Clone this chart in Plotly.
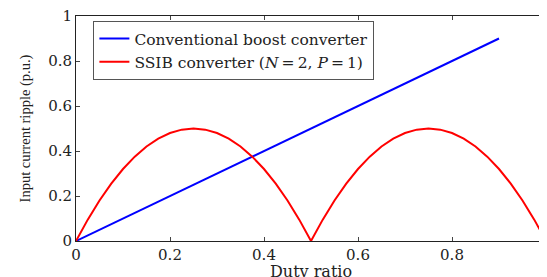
import plotly.graph_objects as go

duty_blue = [0.0, 0.9]
ripple_blue = [0.0, 0.9]

duty_red = [0.0, 0.025, 0.05, 0.075, 0.1, 0.125, 0.15, 0.175, 0.2, 0.225, 0.25,
            0.275, 0.3, 0.325, 0.35, 0.375, 0.4, 0.425, 0.45, 0.475, 0.5,
            0.525, 0.55, 0.575, 0.6, 0.625, 0.65, 0.675, 0.7, 0.725, 0.75,
            0.775, 0.8, 0.825, 0.85, 0.875, 0.9, 0.925, 0.95, 0.975, 1.0]
ripple_red = [0.0, 0.095, 0.18, 0.255, 0.32, 0.375, 0.42, 0.455, 0.48, 0.495, 0.5,
              0.495, 0.48, 0.455, 0.42, 0.375, 0.32, 0.255, 0.18, 0.095, 0.0,
              0.095, 0.18, 0.255, 0.32, 0.375, 0.42, 0.455, 0.48, 0.495, 0.5,
              0.495, 0.48, 0.455, 0.42, 0.375, 0.32, 0.255, 0.18, 0.095, 0.0]

tick_vals = [0, 0.2, 0.4, 0.6, 0.8, 1]
tick_text = ["0", "0.2", "0.4", "0.6", "0.8", "1"]

fig = go.Figure()
fig.add_trace(go.Scatter(x=duty_blue, y=ripple_blue, mode="lines",
                         line=dict(color="#0000ff", width=2),
                         name="Conventional boost converter"))
fig.add_trace(go.Scatter(x=duty_red, y=ripple_red, mode="lines",
                         line=dict(color="#ff0000", width=2),
                         name="SSIB converter (<i>N</i>\u2009=\u20092, <i>P</i>\u2009=\u20091)"))

axis_common = dict(showline=True, linecolor="#222", linewidth=1, mirror="ticks",
                   ticks="inside", ticklen=4, tickcolor="#444", showgrid=False,
                   zeroline=False, tickvals=tick_vals, ticktext=tick_text,
                   automargin=False, ticklabeloverflow="allow",
                   tickfont=dict(family="DejaVu Serif", size=15, color="#222"))

# page body has an 8px margin, so the figure is offset by 8px
fig.update_layout(
    width=547, height=277,
    margin=dict(l=68, r=9, t=8, b=44),
    paper_bgcolor="white", plot_bgcolor="white",
    xaxis=dict(range=[0, 1], **axis_common),
    yaxis=dict(range=[0, 1], title=dict(text="Input current ripple (p.u.)", standoff=14,
               font=dict(family="Liberation Serif", size=14.5, color="#222")), **axis_common),
    legend=dict(x=0.037, y=0.978, xanchor="left", yanchor="top",
                bgcolor="white", bordercolor="#555", borderwidth=1,
                font=dict(family="DejaVu Serif", size=15.5, color="#222"),
                tracegroupgap=0),
    annotations=[dict(text="Duty ratio", xref="paper", yref="paper", x=0.5, y=0,
                      xanchor="center", yanchor="top", yshift=-19, showarrow=False,
                      font=dict(family="DejaVu Serif", size=16, color="#222"))],
    showlegend=True,
)

fig.write_html("out.html")
